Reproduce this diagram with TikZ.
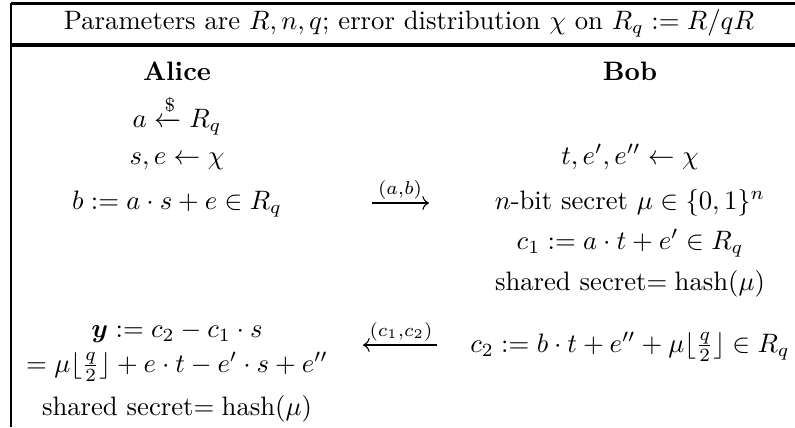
\documentclass[tikz,border=0pt]{standalone}
\usepackage{amsmath,amssymb}
\usetikzlibrary{arrows.meta}
\tikzset{
  txt/.style={anchor=base,inner sep=0pt,outer sep=0pt},
  msg/.style={-{Computer Modern Rightarrow},line width=0.4pt},
  lbl/.style={anchor=base,inner sep=0pt,outer sep=0pt},
}
\begin{document}
\begin{tikzpicture}[x=0.375pt,y=-0.375pt]
\useasboundingbox (0,0) rectangle (795,427);
% frame
\draw[line width=1.1pt] (11,3.5) -- (795,3.5);
\draw[line width=1.5pt] (11,45) -- (795,45);
\draw[line width=0.75pt] (11,3) -- (11,427);
% header
\node[txt] (hdr) at (409,29) {Parameters are $R,n,q$; error distribution $\chi$ on $R_q:=R/qR$};
% Alice column
\node[txt] (alice) at (177,80) {\textbf{Alice}};
\node[txt] (a1) at (177,127) {$a\xleftarrow{\$}R_q$};
\node[txt] (a2) at (177,164) {$s,e\leftarrow\chi$};
\node[txt] (a3) at (177,209) {$b:=a\cdot s+e\in R_q$};
\node[txt] (a4) at (177,337) {$\boldsymbol{y}:=c_2-c_1\cdot s$};
\node[txt] (a5) at (177,372) {$=\mu\lfloor\frac{q}{2}\rfloor+e\cdot t-e'\cdot s+e''$};
\node[txt] (a6) at (177,415) {shared secret$=\operatorname{hash}(\mu)$};
% Bob column
\node[txt] (bob) at (630,80) {\textbf{Bob}};
\node[txt] (b1) at (630,164) {$t,e',e''\leftarrow\chi$};
\node[txt] (b2) at (630,209) {$n$-bit secret $\mu\in\{0,1\}^n$};
\node[txt] (b3) at (630,249) {$c_1:=a\cdot t+e'\in R_q$};
\node[txt] (b4) at (630,290) {shared secret$=\operatorname{hash}(\mu)$};
\node[txt] (b5) at (630,352) {$c_2:=b\cdot t+e''+\mu\lfloor\frac{q}{2}\rfloor\in R_q$};
% messages
\coordinate (m1s) at (372,203);
\coordinate (m1e) at (429,203);
\draw[msg] (m1s) -- (m1e);
\node[lbl] (m1l) at (400,194) {$\scriptstyle(a,b)$};
\coordinate (m2s) at (437,345);
\coordinate (m2e) at (363,345);
\draw[msg] (m2s) -- (m2e);
\node[lbl] (m2l) at (401,336) {$\scriptstyle(c_1,c_2)$};
\end{tikzpicture}
\end{document}
